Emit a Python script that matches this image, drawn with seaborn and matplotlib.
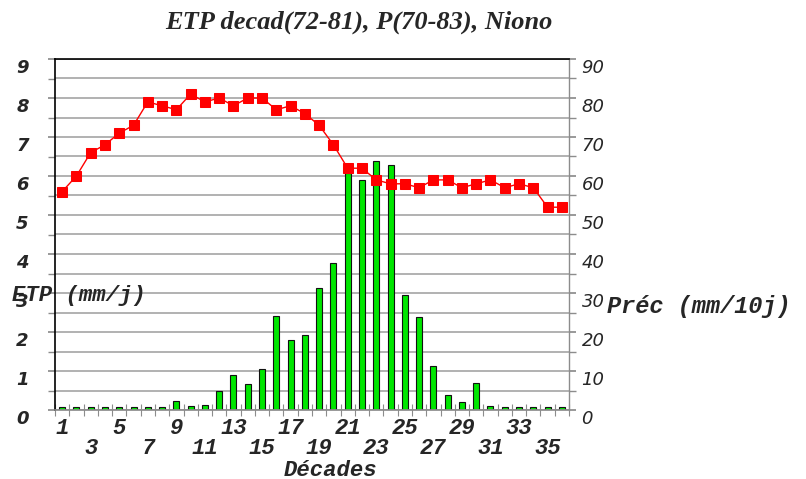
import numpy as np
import pandas as pd
import matplotlib
matplotlib.use("Agg")
import matplotlib.pyplot as plt
import seaborn as sns

# donnees
decades = list(range(1, 37))
etp = [5.6, 6.0, 6.6, 6.8, 7.1, 7.3, 7.9, 7.8, 7.7, 8.1, 7.9, 8.0,
       7.8, 8.0, 8.0, 7.7, 7.8, 7.6, 7.3, 6.8, 6.2, 6.2, 5.9, 5.8,
       5.8, 5.7, 5.9, 5.9, 5.7, 5.8, 5.9, 5.7, 5.8, 5.7, 5.2, 5.2]
pluie = [0.7, 0.7, 0.7, 0.7, 0.7, 0.7, 0.7, 0.7, 2.2, 1.0, 1.3, 4.9,
         8.9, 6.7, 10.6, 24.0, 18.0, 19.2, 31.2, 37.7, 60.7, 59.1, 63.8, 62.9,
         29.6, 23.8, 11.2, 3.8, 2.0, 6.9, 1.0, 0.8, 0.7, 0.7, 0.7, 0.7]
etp_ticks = list(range(0, 10))
pluie_ticks = list(range(0, 100, 10))

titre = "ETP decad(72-81), P(70-83), Niono"

sns.set_theme(style="white")
plt.rcParams['font.family'] = ['DejaVu Sans']

df = pd.DataFrame({'decade': decades, 'etp': etp, 'pluie': pluie})

W, H = 806, 479
fig, ax = plt.subplots(figsize=(W / 100, H / 100), dpi=100)
fig.subplots_adjust(left=55 / W, right=569 / W, top=1 - 59 / H, bottom=1 - 410 / H)
ax2 = ax.twinx()

# barres de pluie (axe droit)
sns.barplot(data=df, x='decade', y='pluie', ax=ax2, color='#00e600', saturation=1,
            width=0.42, edgecolor='#111111', linewidth=0.8, errorbar=None)

# courbe ETP (axe gauche)
sns.pointplot(data=df, x='decade', y='etp', ax=ax, color='red', markers='s',
              markersize=6.5, linewidth=1, errorbar=None)

ax.set_zorder(ax2.get_zorder() + 1)
ax.patch.set_visible(False)

ax.set_xlim(-0.5, 35.5)
ax.set_ylim(0, 9)
ax2.set_ylim(0, 90)
ax.set_xlabel('')
ax.set_ylabel('')
ax2.set_xlabel('')
ax2.set_ylabel('')

gris = '#8c8c8c'

# graduations y gauche
ax.set_yticks(etp_ticks, labels=[str(v) for v in etp_ticks], fontweight='bold',
              fontstyle='italic', fontsize=13, va='top')
ax.set_yticks(np.arange(0, 9.01, 0.5), minor=True)
ax.tick_params(axis='y', which='both', left=True, length=5, color=gris, direction='out', pad=14)

# graduations y droite
ax2.set_yticks(pluie_ticks, labels=[str(v) for v in pluie_ticks], fontstyle='italic',
               fontsize=13, va='top')
ax2.set_yticks(np.arange(0, 90.1, 5), minor=True)
ax2.tick_params(axis='y', which='both', right=True, length=5, color=gris, direction='out', pad=4)

# grille horizontale
ax2.yaxis.grid(True, which='both', color='#a4a4a4', linewidth=1.2)
ax2.xaxis.grid(False)
ax2.set_axisbelow(True)
ax.grid(False)

# graduations x (etiquettes en quinconce)
pos = np.arange(0, len(decades), 2)
labs = [str(d) if i % 2 == 0 else "\n" + str(d) for i, d in enumerate(decades[::2])]
ax.set_xticks(pos, labels=labs, fontfamily='Liberation Mono', fontweight='bold',
              fontstyle='italic', fontsize=16, va='top', linespacing=0.9)
ax.set_xticks(np.arange(-0.5, len(decades), 1), minor=True)
ax.tick_params(axis='x', which='major', bottom=True, length=0, pad=6)
ax.tick_params(axis='x', which='minor', bottom=True, length=8, color=gris,
               direction='inout', width=0.8)

# cadres
for s in ['left', 'top']:
    ax.spines[s].set_color('black')
    ax.spines[s].set_linewidth(1.2)
ax.spines['bottom'].set_color(gris)
ax.spines['right'].set_visible(False)
for s in ['left', 'top', 'bottom']:
    ax2.spines[s].set_visible(False)
ax2.spines['right'].set_color(gris)
ax2.spines['right'].set_linewidth(1)

# textes
fig.text(359 / W, 1 - 22 / H, titre, ha='center', va='center', fontsize=19,
         family='Liberation Serif', fontweight='bold', fontstyle='italic')
fig.text(12 / W, 1 - 295 / H, "ETP (mm/j)", ha='left', va='center', fontsize=16,
         family='Liberation Mono', fontweight='bold', fontstyle='italic')
fig.text(607 / W, 1 - 306 / H, "Préc (mm/10j)", ha='left', va='center', fontsize=17,
         family='Liberation Mono', fontweight='bold', fontstyle='italic')
fig.text(330 / W, 1 - 470 / H, "Décades", ha='center', va='center', fontsize=16,
         family='Liberation Mono', fontweight='bold', fontstyle='italic')

fig.savefig('out.png', dpi=100)
